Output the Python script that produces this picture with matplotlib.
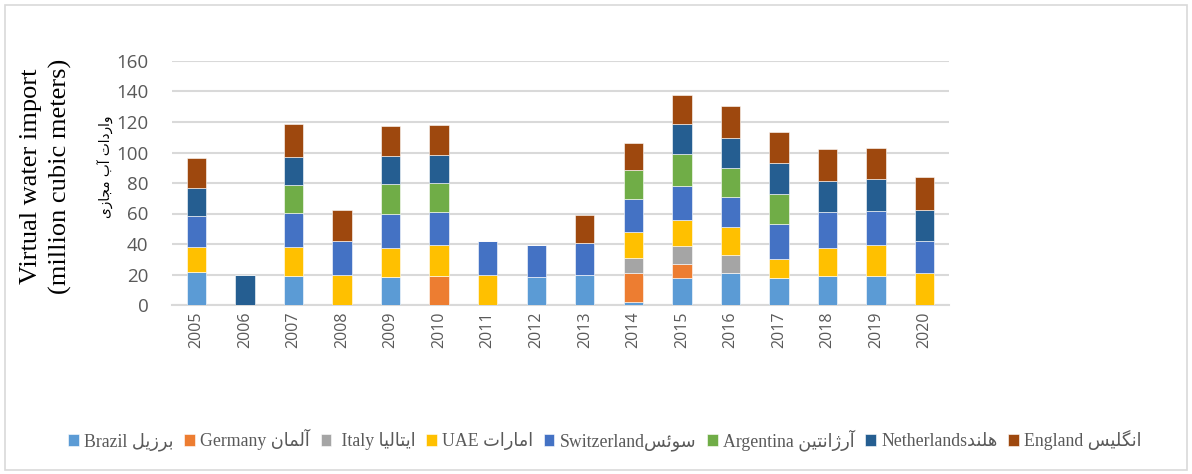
import matplotlib
matplotlib.use("Agg")
import matplotlib.pyplot as plt
import numpy as np
from matplotlib.patches import Rectangle

years = ["2005", "2006", "2007", "2008", "2009", "2010", "2011", "2012",
         "2013", "2014", "2015", "2016", "2017", "2018", "2019", "2020"]
brazil      = [21.4, 0, 19.2, 0, 18.4, 0, 0, 18.1, 19.4, 2.2, 17.5, 21.2, 17.9, 18.8, 19.2, 0]
germany     = [0, 0, 0, 0, 0, 18.8, 0, 0, 0, 18.6, 9.4, 0, 0, 0, 0, 0]
italy       = [0, 0, 0, 0, 0, 0, 0, 0, 0, 10.2, 12.0, 11.4, 0, 0, 0, 0]
uae         = [16.9, 0, 18.8, 19.5, 19.2, 20.3, 19.8, 0, 0, 17.1, 17.0, 18.3, 12.5, 18.8, 19.9, 20.8]
switzerland = [19.8, 0, 22.1, 22.5, 22.3, 22.1, 22.0, 21.2, 21.0, 21.2, 22.3, 20.1, 22.7, 23.2, 22.3, 21.2]
argentina   = [0, 0, 18.6, 0, 19.4, 18.6, 0, 0, 0, 19.0, 21.0, 18.6, 19.5, 0, 0, 0]
netherlands = [18.4, 19.5, 18.6, 0, 18.6, 18.3, 0, 0, 0, 0, 19.3, 20.1, 20.3, 20.3, 21.0, 20.5]
england     = [20.1, 0, 21.4, 20.0, 19.5, 19.9, 0, 0, 18.8, 18.1, 19.4, 20.6, 20.8, 21.0, 20.5, 21.4]

series_en = ["Brazil", "Germany", "Italy", "UAE", "Switzerland", "Argentina", "Netherlands", "England"]
series_fa = ["برزیل", "آلمان", "ایتالیا", "امارات", "سوئس", "آرژانتین", "هلند", "انگلیس"]
series_sep = [" ", " ", " ", " ", "", " ", "", " "]
series_pre = ["", "", " ", "", "", "", "", ""]
colors = ["#5B9BD5", "#ED7D31", "#A5A5A5", "#FFC000", "#4472C4", "#70AD47", "#255E91", "#9E480E"]
ylabel_en = "Virtual water import\n(million cubic meters)"
ylabel_fa = "واردات آب مجازی"

# --- minimal Persian shaping (presentation forms + visual order) ---
FORMS = {
    "\u0627": ("\uFE8D", "\uFE8E"),
    "\u0622": ("\uFE81", "\uFE82"),
    "\u062F": ("\uFEA9", "\uFEAA"),
    "\u0631": ("\uFEAD", "\uFEAE"),
    "\u0632": ("\uFEAF", "\uFEB0"),
    "\u0698": ("\uFB8A", "\uFB8B"),
    "\u0648": ("\uFEED", "\uFEEE"),
    "\u0628": ("\uFE8F", "\uFE90", "\uFE91", "\uFE92"),
    "\u062A": ("\uFE95", "\uFE96", "\uFE97", "\uFE98"),
    "\u062C": ("\uFE9D", "\uFE9E", "\uFE9F", "\uFEA0"),
    "\u0633": ("\uFEB1", "\uFEB2", "\uFEB3", "\uFEB4"),
    "\u0644": ("\uFEDD", "\uFEDE", "\uFEDF", "\uFEE0"),
    "\u0645": ("\uFEE1", "\uFEE2", "\uFEE3", "\uFEE4"),
    "\u0646": ("\uFEE5", "\uFEE6", "\uFEE7", "\uFEE8"),
    "\u0647": ("\uFEE9", "\uFEEA", "\uFEEB", "\uFEEC"),
    "\u06CC": ("\uFBFC", "\uFBFD", "\uFBFE", "\uFBFF"),
    "\u0626": ("\uFE89", "\uFE8A", "\uFE8B", "\uFE8C"),
    "\u06AF": ("\uFB92", "\uFB93", "\uFB94", "\uFB95"),
}


def shape(text):
    out = []
    n = len(text)
    for i, ch in enumerate(text):
        f = FORMS.get(ch)
        if f is None:
            out.append(ch)
            continue
        prev = text[i - 1] if i > 0 else None
        nxt = text[i + 1] if i < n - 1 else None
        jp = prev is not None and prev in FORMS and len(FORMS[prev]) == 4
        jn = len(f) == 4 and nxt is not None and nxt in FORMS
        if jp and jn:
            out.append(f[3])
        elif jp:
            out.append(f[1])
        elif jn:
            out.append(f[2])
        else:
            out.append(f[0])
    return "".join(reversed(out))


W, H = 1192, 474
fig = plt.figure(figsize=(W / 100, H / 100), dpi=100)
fig.patch.set_facecolor("white")
fig.add_artist(Rectangle((5 / W, 4 / H), (W - 10) / W, (H - 9) / H,
                         transform=fig.transFigure, fill=False,
                         edgecolor="#D9D9D9", linewidth=1.2))

ax = fig.add_axes([172 / W, 1 - 305 / H, 777 / W, 244 / H])
x = np.arange(len(years))
data = [brazil, germany, italy, uae, switzerland, argentina, netherlands, england]
bottom = np.zeros(len(years))
handles = []
for vals, col, en, fa, sep, pre in zip(data, colors, series_en, series_fa, series_sep, series_pre):
    v = np.array(vals, dtype=float)
    b = ax.bar(x, v, width=0.40, bottom=bottom, color=col, edgecolor="white",
               linewidth=0.4, zorder=3, label=pre + en + sep + shape(fa))
    handles.append(b)
    bottom += v

ax.set_xlim(-0.5, 15.5)
ax.set_ylim(0, 160)
ax.set_yticks(np.arange(0, 161, 20))
ax.set_xticks(x)
ax.set_xticklabels(years, rotation=90, fontsize=11.5, color="#595959", family="Open Sans")
ax.tick_params(axis="y", labelsize=13.5, labelcolor="#595959", length=0, pad=17)
ax.tick_params(axis="x", length=0, pad=5)
for lab in ax.get_yticklabels():
    lab.set_family("Open Sans")
ax.grid(axis="y", color="#D9D9D9", linewidth=1.5, zorder=0)
for s in ["top", "right", "left"]:
    ax.spines[s].set_visible(False)
ax.spines["bottom"].set_color("#D9D9D9")
ax.spines["bottom"].set_linewidth(1.5)

fig.text(46 / W, 1 - 176 / H, ylabel_en, rotation=90, ha="center", va="center",
         fontsize=19, family=["Liberation Serif", "DejaVu Sans"], color="black",
         linespacing=1.35)
fig.text(106 / W, 1 - 167 / H, shape(ylabel_fa), rotation=90, ha="center", va="center",
         fontsize=9.8, family=["DejaVu Sans"], color="black")

leg = fig.legend(handles=handles, loc="center", bbox_to_anchor=(605 / W, 1 - 440 / H),
                 ncol=8, frameon=False, handlelength=0.6, handleheight=0.6,
                 handletextpad=0.3, columnspacing=0.6,
                 prop={"family": ["Liberation Serif", "DejaVu Sans"], "size": 12.8})
for t in leg.get_texts():
    t.set_color("#595959")

fig.savefig("out.png", dpi=100)
